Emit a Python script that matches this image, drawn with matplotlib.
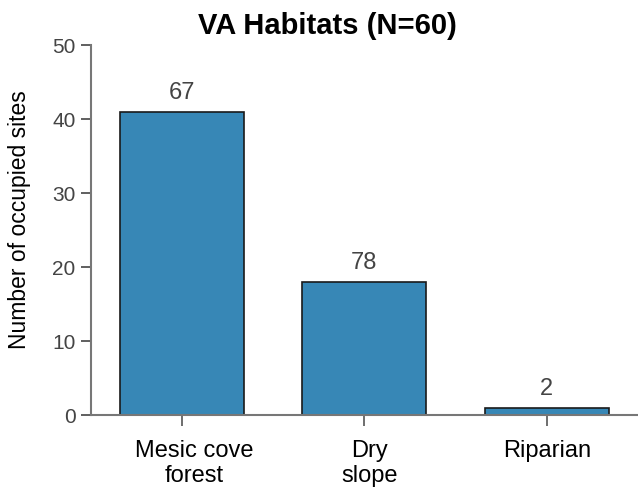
import matplotlib
matplotlib.use("Agg")
import matplotlib.pyplot as plt
from matplotlib.transforms import ScaledTranslation

plt.rcParams['font.family'] = ['Liberation Sans', 'DejaVu Sans']

habitats = ["Mesic cove\nforest", "Dry\nslope", "Riparian"]
occupied = [41, 18, 1]
bar_labels = ["67", "78", "2"]
label_shift_px = [12, 5, 1]  # the category labels sit a bit right of their ticks

fig = plt.figure(figsize=(6.38, 4.92), dpi=100)
ax = fig.add_axes([0.1426, 0.1565, 0.857, 0.752])

x = range(len(habitats))
bars = ax.bar(x, occupied, width=0.68, color="#3787b6", edgecolor="#1a1a1a", linewidth=1.2)
for b, lab in zip(bars, bar_labels):
    ax.text(b.get_x() + b.get_width() / 2, b.get_height() + 1.0, lab,
            ha="center", va="bottom", fontsize=17, color="#444444")

ax.set_xlim(-0.5, 2.5)
ax.set_ylim(0, 50)
ax.set_yticks([0, 10, 20, 30, 40, 50])
ax.set_xticks(list(x))
ax.set_xticklabels(habitats, fontsize=17, linespacing=1.2)
ax.tick_params(axis="y", labelsize=15, colors="#444444", length=7, width=1.2, pad=4)
ax.tick_params(axis="x", length=8, width=1.2, colors="#555555", labelcolor="black", pad=10)
for lab, dx in zip(ax.get_xticklabels(), label_shift_px):
    lab.set_transform(lab.get_transform() + ScaledTranslation(dx / 100, 0, fig.dpi_scale_trans))
for s in ["top", "right"]:
    ax.spines[s].set_visible(False)
for s in ["left", "bottom"]:
    ax.spines[s].set_color("#777777")
    ax.spines[s].set_linewidth(1.5)

ax.set_ylabel("Number of occupied sites", fontsize=16.5)
ax.yaxis.set_label_coords(-0.11, 0.527)
fig.suptitle("VA Habitats (N=60)", fontsize=21, fontweight="bold", x=0.513, y=0.947, va="center")

fig.savefig("out.png", dpi=100)
